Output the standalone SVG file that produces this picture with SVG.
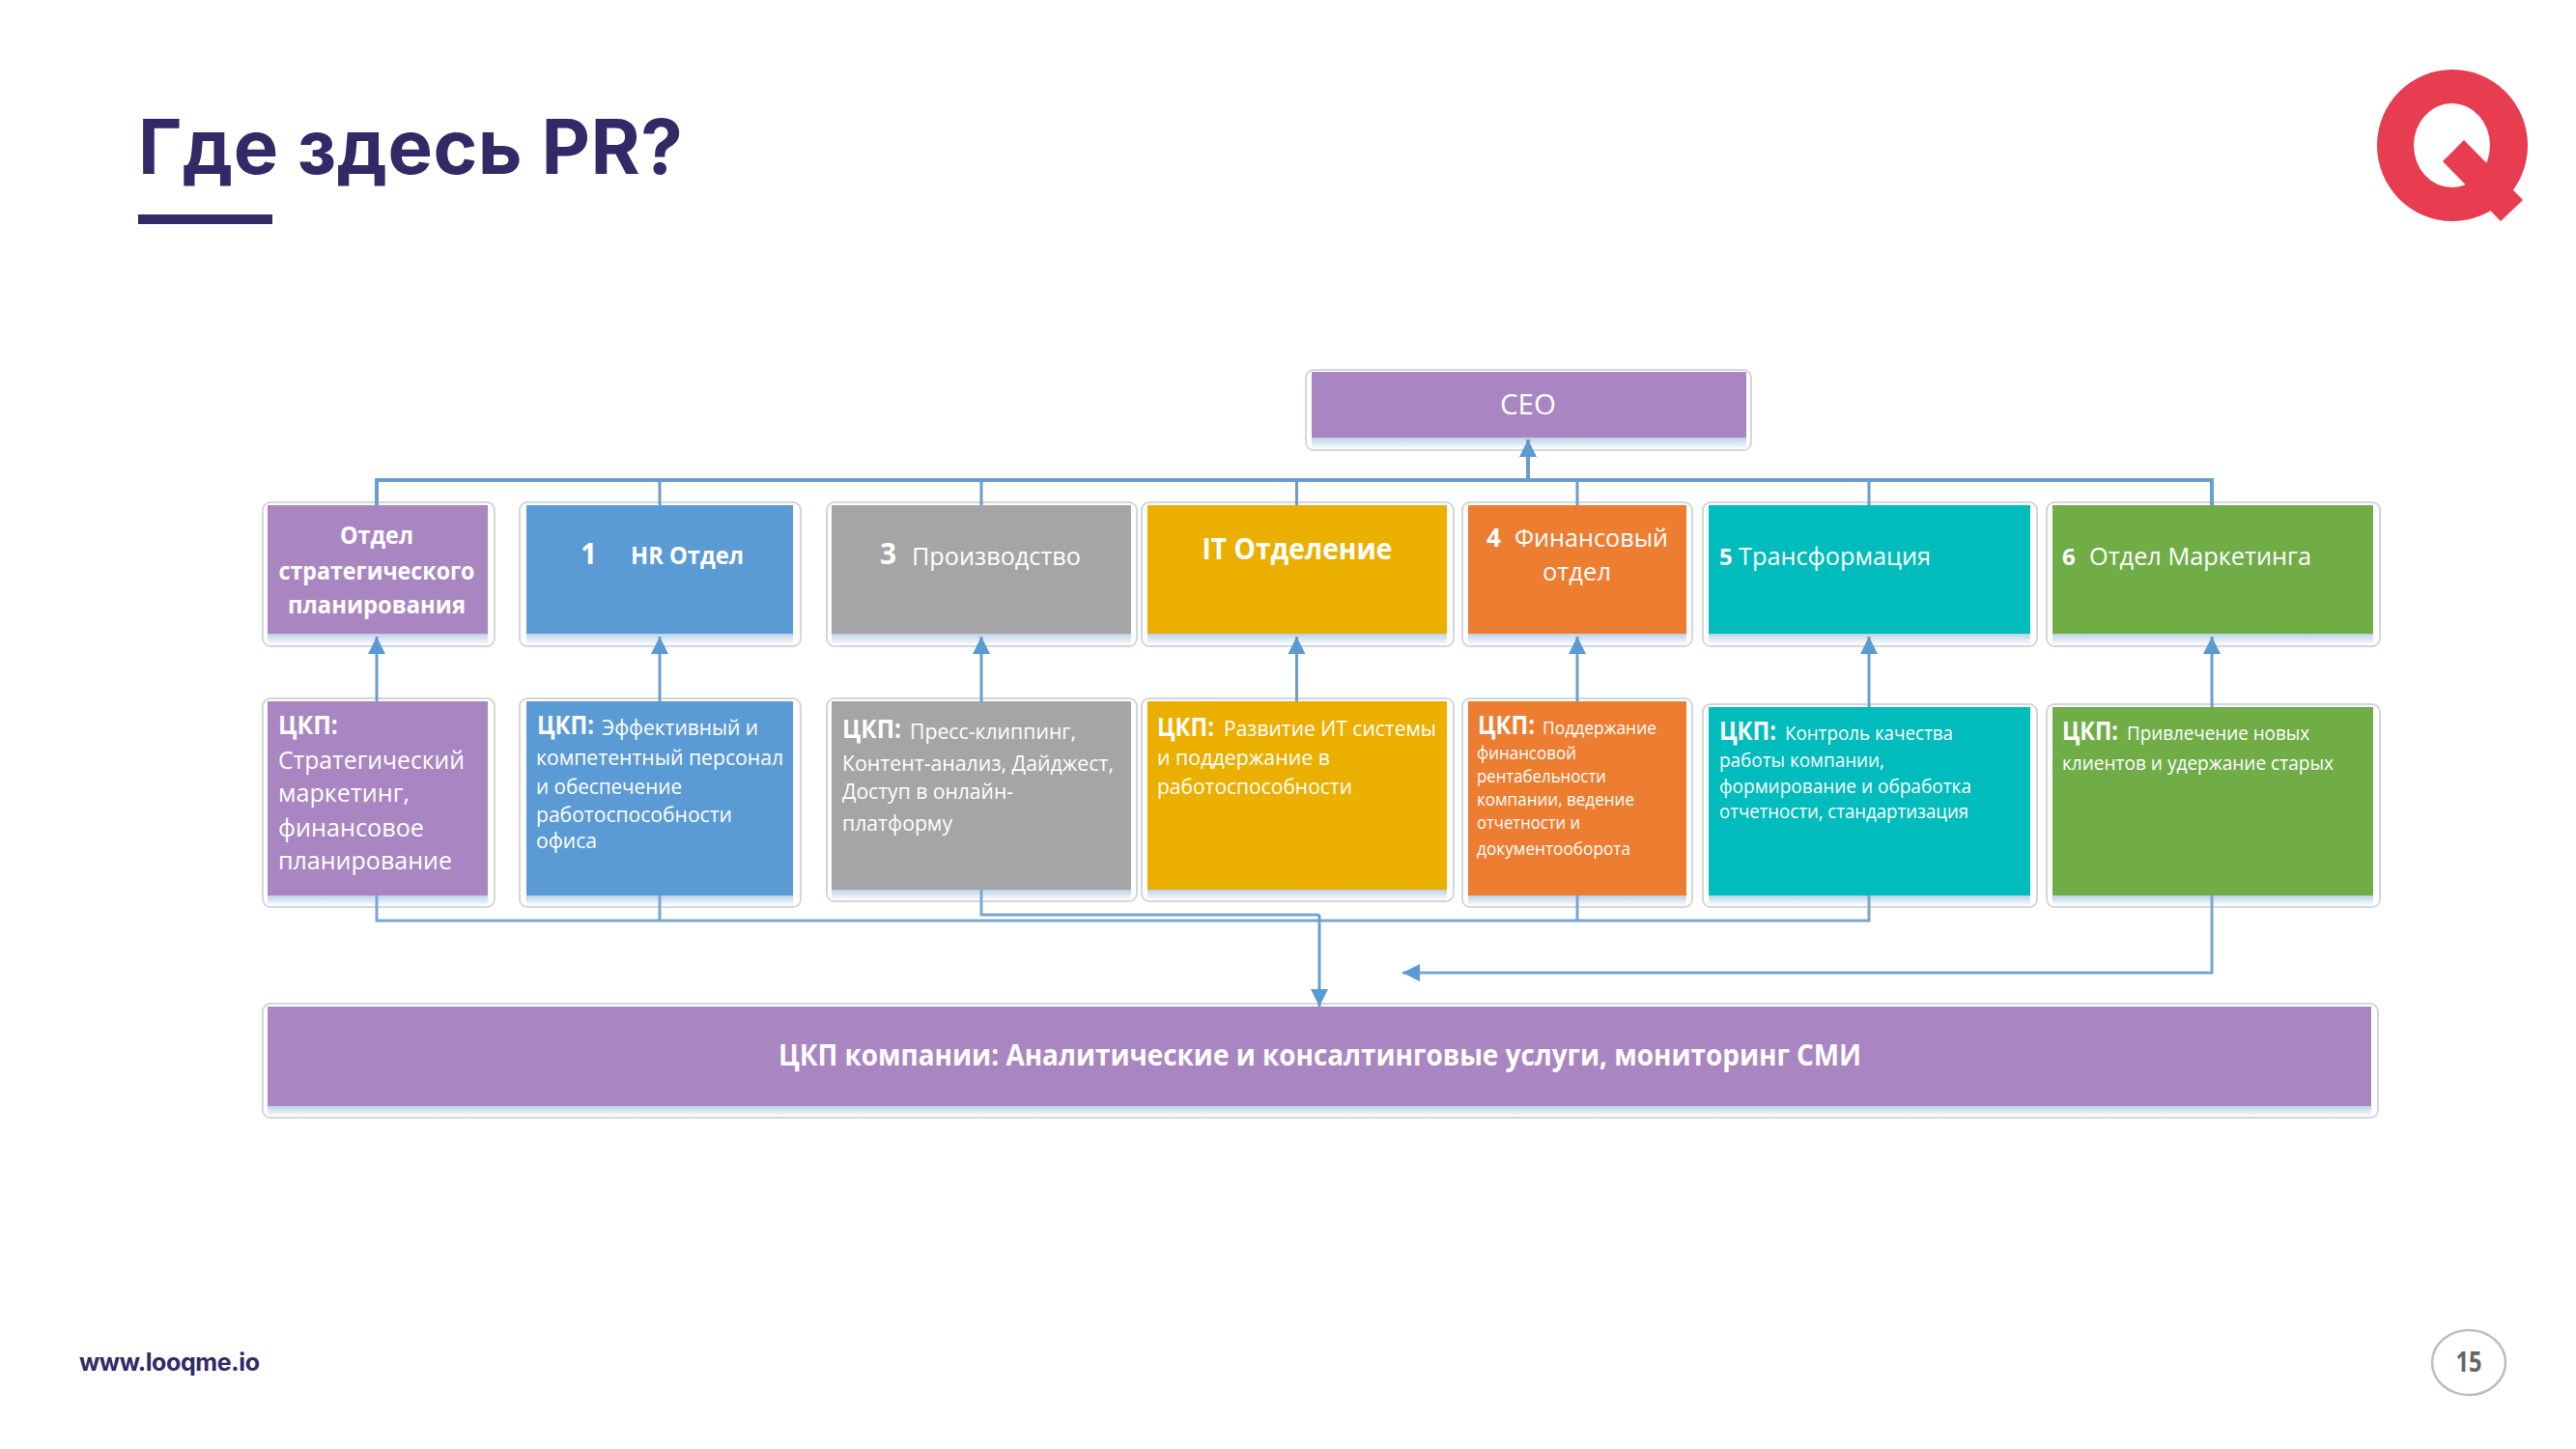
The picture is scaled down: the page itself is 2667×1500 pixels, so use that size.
<svg xmlns="http://www.w3.org/2000/svg" width="2667" height="1500" viewBox="0 0 2667 1500">
<style>
text{font-family:"Open Sans","Liberation Sans",sans-serif;fill:#fff}
.b{font-weight:700}
.c{text-anchor:middle}
.brand{font-family:Inter,"Liberation Sans",sans-serif;font-weight:700;fill:#322a66}
.frame{fill:#fff;stroke:#d3d6da;stroke-width:2}
.line{fill:none;stroke:#6a9ecb;stroke-width:3}
.thin{fill:none;stroke:#7aa7cf;stroke-width:3}
.purple{fill:#a986c2}.blue{fill:#5b9bd5}.gray{fill:#a5a5a5}.yellow{fill:#ebaf00}.orange{fill:#ed7d31}.teal{fill:#00bcbc}.green{fill:#70ad47}
.shade{fill:url(#fade)}
</style>
<defs>
<linearGradient id="fade" x1="0" y1="0" x2="0" y2="1"><stop offset="0" stop-color="#bcd2e8"/><stop offset="1" stop-color="#fff"/></linearGradient>
<marker id="arrow" markerUnits="userSpaceOnUse" markerWidth="20" markerHeight="20" viewBox="0 0 20 20" refX="19" refY="10" orient="auto"><path d="M1 1L19 10L1 19Z" fill="#5b9bd5"/></marker>
</defs>
<rect width="2667" height="1500" fill="#fff"/>
<g id="title">
<text x="143" y="180" font-size="78" class="brand" textLength="564" lengthAdjust="spacing">Где здесь PR?</text>
<rect x="143" y="222" width="139" height="10" fill="#322a66"/>
</g>
<g id="logo">
<path fill="#e83c50" fill-rule="evenodd" d="M2539 72A78 78.500 0 1 1 2539 229A78 78.500 0 1 1 2539 72ZM2538.500 107A39.500 43.500 0 1 0 2538.500 194A39.500 43.500 0 1 0 2538.500 107Z"/>
<path fill="#e83c50" d="M2551 145L2612 207L2589 229L2529 167Z"/>
</g>
<g id="ceo">
<rect class="frame" x="1352" y="383" width="461" height="83" rx="8"/><rect class="shade" x="1358" y="453" width="450" height="12"/><rect class="purple" x="1358" y="385" width="450" height="68"/>
<text class="c" x="1582" y="429" font-size="30" textLength="58" lengthAdjust="spacingAndGlyphs">CEO</text>
</g>
<g id="dept-strategy">
<rect class="frame" x="272" y="520" width="240" height="149" rx="8"/><rect class="shade" x="277" y="656" width="228" height="12"/><rect class="purple" x="277" y="523" width="228" height="133"/>
<text class="b c" x="390" y="563" font-size="25" textLength="76" lengthAdjust="spacingAndGlyphs">Отдел</text>
<text class="b c" x="390" y="600" font-size="25" textLength="203" lengthAdjust="spacingAndGlyphs">стратегического</text>
<text class="b c" x="390" y="635" font-size="25" textLength="184" lengthAdjust="spacingAndGlyphs">планирования</text>
</g>
<g id="dept-hr">
<rect class="frame" x="538" y="520" width="291" height="149" rx="8"/><rect class="shade" x="545" y="656" width="276" height="12"/><rect class="blue" x="545" y="523" width="276" height="133"/>
<text class="b" x="601" y="584" font-size="30">1</text>
<text class="b" x="653" y="584" font-size="25" textLength="117" lengthAdjust="spacingAndGlyphs">HR Отдел</text>
</g>
<g id="dept-production">
<rect class="frame" x="856" y="520" width="321" height="149" rx="8"/><rect class="shade" x="861" y="656" width="310" height="12"/><rect class="gray" x="861" y="523" width="310" height="133"/>
<text class="b" x="911" y="584" font-size="30">3</text>
<text x="944" y="585" font-size="26" textLength="175" lengthAdjust="spacingAndGlyphs">Производство</text>
</g>
<g id="dept-it">
<rect class="frame" x="1182" y="520" width="323" height="149" rx="8"/><rect class="shade" x="1188" y="656" width="310" height="12"/><rect class="yellow" x="1188" y="523" width="310" height="133"/>
<text class="b c" x="1343" y="579" font-size="30" textLength="197" lengthAdjust="spacingAndGlyphs">IT Отделение</text>
</g>
<g id="dept-finance">
<rect class="frame" x="1514" y="520" width="238" height="149" rx="8"/><rect class="shade" x="1520" y="656" width="226" height="12"/><rect class="orange" x="1520" y="523" width="226" height="133"/>
<text class="b" x="1539" y="566" font-size="26">4</text>
<text x="1568" y="566" font-size="26" textLength="159" lengthAdjust="spacingAndGlyphs">Финансовый</text>
<text x="1597" y="601" font-size="26" textLength="71" lengthAdjust="spacingAndGlyphs">отдел</text>
</g>
<g id="dept-transformation">
<rect class="frame" x="1763" y="520" width="346" height="149" rx="8"/><rect class="shade" x="1769" y="656" width="333" height="12"/><rect class="teal" x="1769" y="523" width="333" height="133"/>
<text class="b" x="1780" y="585" font-size="24">5</text>
<text x="1800" y="585" font-size="26" textLength="199" lengthAdjust="spacingAndGlyphs">Трансформация</text>
</g>
<g id="dept-marketing">
<rect class="frame" x="2119" y="520" width="345" height="149" rx="8"/><rect class="shade" x="2125" y="656" width="332" height="12"/><rect class="green" x="2125" y="523" width="332" height="133"/>
<text class="b" x="2135" y="585" font-size="24">6</text>
<text x="2163" y="585" font-size="26" textLength="230" lengthAdjust="spacingAndGlyphs">Отдел Маркетинга</text>
</g>
<g id="vcp-strategy">
<rect class="frame" x="272" y="723" width="240" height="216" rx="8"/><rect class="shade" x="277" y="927" width="228" height="11"/><rect class="purple" x="277" y="726" width="228" height="201"/>
<text class="b" x="288" y="760" font-size="26" textLength="62" lengthAdjust="spacingAndGlyphs">ЦКП:</text>
<text x="288" y="796" font-size="26" textLength="193" lengthAdjust="spacingAndGlyphs">Стратегический</text>
<text x="288" y="830" font-size="26" textLength="136" lengthAdjust="spacingAndGlyphs">маркетинг,</text>
<text x="288" y="866" font-size="26" textLength="151" lengthAdjust="spacingAndGlyphs">финансовое</text>
<text x="288" y="900" font-size="26" textLength="180" lengthAdjust="spacingAndGlyphs">планирование</text>
</g>
<g id="vcp-hr">
<rect class="frame" x="538" y="723" width="291" height="216" rx="8"/><rect class="shade" x="545" y="927" width="276" height="11"/><rect class="blue" x="545" y="726" width="276" height="201"/>
<text class="b" x="556" y="760" font-size="26" textLength="59" lengthAdjust="spacingAndGlyphs">ЦКП:</text>
<text x="623" y="761" font-size="22" textLength="162" lengthAdjust="spacingAndGlyphs">Эффективный и</text>
<text x="555" y="792" font-size="22" textLength="256" lengthAdjust="spacingAndGlyphs">компетентный персонал</text>
<text x="555" y="822" font-size="22" textLength="151" lengthAdjust="spacingAndGlyphs">и обеспечение</text>
<text x="555" y="851" font-size="22" textLength="203" lengthAdjust="spacingAndGlyphs">работоспособности</text>
<text x="555" y="878" font-size="22" textLength="63" lengthAdjust="spacingAndGlyphs">офиса</text>
</g>
<g id="vcp-production">
<rect class="frame" x="856" y="723" width="321" height="210" rx="8"/><rect class="shade" x="861" y="921" width="310" height="11"/><rect class="gray" x="861" y="726" width="310" height="195"/>
<text class="b" x="872" y="764" font-size="26" textLength="61" lengthAdjust="spacingAndGlyphs">ЦКП:</text>
<text x="942" y="765" font-size="22" textLength="172" lengthAdjust="spacingAndGlyphs">Пресс-клиппинг,</text>
<text x="872" y="798" font-size="22" textLength="281" lengthAdjust="spacingAndGlyphs">Контент-анализ, Дайджест,</text>
<text x="872" y="827" font-size="22" textLength="177" lengthAdjust="spacingAndGlyphs">Доступ в онлайн-</text>
<text x="872" y="860" font-size="22" textLength="114" lengthAdjust="spacingAndGlyphs">платформу</text>
</g>
<g id="vcp-it">
<rect class="frame" x="1182" y="723" width="323" height="210" rx="8"/><rect class="shade" x="1188" y="921" width="310" height="11"/><rect class="yellow" x="1188" y="726" width="310" height="195"/>
<text class="b" x="1198" y="762" font-size="26" textLength="59" lengthAdjust="spacingAndGlyphs">ЦКП:</text>
<text x="1267" y="762" font-size="22" textLength="220" lengthAdjust="spacingAndGlyphs">Развитие ИТ системы</text>
<text x="1198" y="792" font-size="22" textLength="179" lengthAdjust="spacingAndGlyphs">и поддержание в</text>
<text x="1198" y="822" font-size="22" textLength="202" lengthAdjust="spacingAndGlyphs">работоспособности</text>
</g>
<g id="vcp-finance">
<rect class="frame" x="1514" y="723" width="238" height="216" rx="8"/><rect class="shade" x="1520" y="927" width="226" height="11"/><rect class="orange" x="1520" y="726" width="226" height="201"/>
<text class="b" x="1530" y="760" font-size="26" textLength="59" lengthAdjust="spacingAndGlyphs">ЦКП:</text>
<text x="1597" y="760" font-size="18" textLength="118" lengthAdjust="spacingAndGlyphs">Поддержание</text>
<text x="1529" y="786" font-size="18" textLength="103" lengthAdjust="spacingAndGlyphs">финансовой</text>
<text x="1529" y="810" font-size="18" textLength="134" lengthAdjust="spacingAndGlyphs">рентабельности</text>
<text x="1529" y="834" font-size="18" textLength="163" lengthAdjust="spacingAndGlyphs">компании, ведение</text>
<text x="1529" y="858" font-size="18" textLength="107" lengthAdjust="spacingAndGlyphs">отчетности и</text>
<text x="1529" y="885" font-size="18" textLength="159" lengthAdjust="spacingAndGlyphs">документооборота</text>
</g>
<g id="vcp-transformation">
<rect class="frame" x="1763" y="729" width="346" height="210" rx="8"/><rect class="shade" x="1769" y="927" width="333" height="11"/><rect class="teal" x="1769" y="732" width="333" height="195"/>
<text class="b" x="1780" y="766" font-size="26" textLength="59" lengthAdjust="spacingAndGlyphs">ЦКП:</text>
<text x="1848" y="766" font-size="20" textLength="174" lengthAdjust="spacingAndGlyphs">Контроль качества</text>
<text x="1780" y="794" font-size="20" textLength="171" lengthAdjust="spacingAndGlyphs">работы компании,</text>
<text x="1780" y="821" font-size="20" textLength="261" lengthAdjust="spacingAndGlyphs">формирование и обработка</text>
<text x="1780" y="847" font-size="20" textLength="258" lengthAdjust="spacingAndGlyphs">отчетности, стандартизация</text>
</g>
<g id="vcp-marketing">
<rect class="frame" x="2119" y="729" width="345" height="210" rx="8"/><rect class="shade" x="2125" y="927" width="332" height="11"/><rect class="green" x="2125" y="732" width="332" height="195"/>
<text class="b" x="2135" y="766" font-size="26" textLength="58" lengthAdjust="spacingAndGlyphs">ЦКП:</text>
<text x="2202" y="766" font-size="20" textLength="189" lengthAdjust="spacingAndGlyphs">Привлечение новых</text>
<text x="2135" y="797" font-size="20" textLength="281" lengthAdjust="spacingAndGlyphs">клиентов и удержание старых</text>
</g>
<g id="company-vcp">
<rect class="frame" x="272" y="1039" width="2190" height="118" rx="8"/><rect class="shade" x="277" y="1145" width="2178" height="11"/><rect class="purple" x="277" y="1042" width="2178" height="103"/>
<text class="b" x="806" y="1103" font-size="30" textLength="1121" lengthAdjust="spacingAndGlyphs">ЦКП компании: Аналитические и консалтинговые услуги, мониторинг СМИ</text>
</g>
<g id="connectors">
<path class="line" style="stroke-width:4" d="M390 523V497H2290V523"/>
<path class="line" d="M683 497V523M1016 497V523M1342.500 497V523M1633 497V523M1935 497V523"/>
<path class="line" style="stroke-width:4" d="M1582 497V455" marker-end="url(#arrow)"/>
<path class="line" d="M390 726V659" marker-end="url(#arrow)"/>
<path class="line" d="M683 726V659" marker-end="url(#arrow)"/>
<path class="line" d="M1016 726V659" marker-end="url(#arrow)"/>
<path class="line" d="M1342.500 726V659" marker-end="url(#arrow)"/>
<path class="line" d="M1633 726V659" marker-end="url(#arrow)"/>
<path class="line" d="M1935 732V659" marker-end="url(#arrow)"/>
<path class="line" d="M2290 732V659" marker-end="url(#arrow)"/>
<path class="thin" d="M390 927V953H1935V927M683 927V953M1633 927V953"/>
<path class="thin" d="M1016 921V947H1366"/>
<path class="line" d="M1366 947V1042" marker-end="url(#arrow)"/>
<path class="thin" d="M2290 927V1007H1452" marker-end="url(#arrow)"/>
</g>
<g id="footer">
<text class="brand" x="82" y="1419" font-size="25" textLength="187" lengthAdjust="spacing">www.looqme.io</text>
<ellipse cx="2556" cy="1410.500" rx="38" ry="33.500" fill="#fff" stroke="#bdbdbd" stroke-width="2.500"/>
<text class="b c" x="2556" y="1420" font-size="29" style="fill:#666" textLength="27" lengthAdjust="spacingAndGlyphs">15</text>
</g>
</svg>
